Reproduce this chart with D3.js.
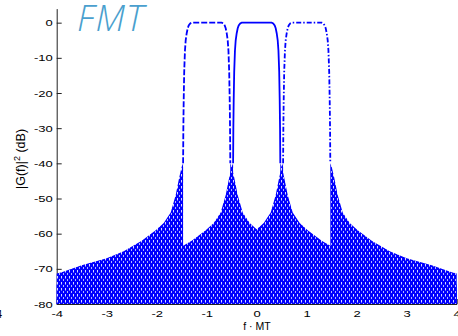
<!DOCTYPE html>
<html>
<head>
<meta charset="utf-8">
<script src="https://cdn.jsdelivr.net/npm/d3@7"></script>
<style>
  body { margin: 0; background: #fff; }
  svg { display: block; }
</style>
</head>
<body>
<div id="chart"></div>
<script>
// Subchannel centres (f·MT) and their line styles
const centers = [-1, 0, 1];
const dashes = ['6,2', null, '5,2,1.5,2'];

// Main lobe of |G(f)|^2 in dB, against offset from the centre
const lobeDf = [0, 0.30, 0.33, 0.36, 0.38, 0.40, 0.42, 0.435, 0.45, 0.46, 0.467, 0.472];
const lobeDb = [0, 0, -0.2, -0.8, -1.6, -3, -5, -8, -14, -22, -30, -40];

// Upper envelope of the sidelobes, against offset from the centre
const tailDf = [0.472, 0.50, 0.55, 0.62, 0.72, 0.86, 1.02, 1.3, 1.66, 2.0, 2.5, 2.9, 3.5, 4.2, 5.0];
const tailDb = [-40, -41, -44, -49, -54, -57, -59, -62, -65, -67, -69, -71, -73, -75, -76];

const xTicks = [-4, -3, -2, -1, 0, 1, 2, 3, 4];
const yTicks = [-80, -70, -60, -50, -40, -30, -20, -10, 0];

const W = 458, H = 336;
const blue = '#0000ff';

const svg = d3.select('#chart').append('svg')
  .attr('width', W)
  .attr('height', H);

const x = d3.scaleLinear().domain([-4, 4]).range([56.7, 456.7]);
const y = d3.scaleLinear().domain([-80, 4]).range([304, 8.6]);

const defs = svg.append('defs');

// Clip for the data
defs.append('clipPath').attr('id', 'plot-clip')
  .append('rect')
  .attr('x', x(-4)).attr('y', y(4))
  .attr('width', x(4) - x(-4)).attr('height', y(-80) - y(4));

// Speckled fill standing in for the dense sidelobe ripple
const pat = defs.append('pattern')
  .attr('id', 'ripple')
  .attr('patternUnits', 'userSpaceOnUse')
  .attr('width', 4).attr('height', 6);
pat.append('rect').attr('width', 4).attr('height', 6).attr('fill', blue);
pat.append('rect').attr('x', 1).attr('y', 0).attr('width', 1).attr('height', 2.5).attr('fill', '#fff').attr('opacity', 0.85);
pat.append('rect').attr('x', 3).attr('y', 3).attr('width', 1).attr('height', 2).attr('fill', '#fff').attr('opacity', 0.7);

const tickText = sel => sel
  .style('font-family', '"Liberation Sans", Arial, Helvetica, sans-serif')
  .style('font-size', '13px')
  .attr('fill', '#000');

// X axis
const xAxis = svg.append('g')
  .attr('transform', `translate(0,${y(-80)})`)
  .call(d3.axisBottom(x).tickValues(xTicks).tickFormat(d => String(d))
    .tickSizeInner(-5).tickSizeOuter(0).tickPadding(8));
xAxis.select('.domain').attr('stroke', '#222');
xAxis.selectAll('.tick line').attr('stroke', '#222');
xAxis.selectAll('.tick text').call(tickText).attr('transform', 'scale(1,0.75)');

// Y axis
const yAxis = svg.append('g')
  .attr('transform', `translate(${x(-4)},0)`)
  .call(d3.axisLeft(y).tickValues(yTicks).tickFormat(d => String(d))
    .tickSizeInner(-5).tickSizeOuter(0).tickPadding(4));
yAxis.select('.domain').attr('stroke', '#222');
yAxis.selectAll('.tick line').attr('stroke', '#222');
yAxis.selectAll('.tick text').call(tickText).attr('transform', 'scale(1,0.75)');

const plot = svg.append('g').attr('clip-path', 'url(#plot-clip)');

const area = d3.area()
  .x(d => x(d.f))
  .y0(y(-80))
  .y1(d => y(d.db));

const line = d3.line()
  .x(d => x(d.f))
  .y(d => y(d.db));

// Sidelobe tails of each filter
centers.forEach(c => {
  const left = tailDf.map((df, i) => ({ f: c - df, db: tailDb[i] })).reverse();
  const right = tailDf.map((df, i) => ({ f: c + df, db: tailDb[i] }));
  [left, right].forEach(pts => {
    plot.append('path')
      .datum(pts)
      .attr('d', area)
      .attr('fill', 'url(#ripple)');
  });
});

// Main lobes
centers.forEach((c, k) => {
  const pts = [];
  for (let i = lobeDf.length - 1; i > 0; i--) pts.push({ f: c - lobeDf[i], db: lobeDb[i] });
  for (let i = 0; i < lobeDf.length; i++) pts.push({ f: c + lobeDf[i], db: lobeDb[i] });
  plot.append('path')
    .datum(pts)
    .attr('d', line)
    .attr('fill', 'none')
    .attr('stroke', blue)
    .attr('stroke-width', 1.8)
    .attr('stroke-dasharray', dashes[k]);
});

// Axis labels
svg.append('text')
  .attr('x', 257)
  .attr('y', 330)
  .attr('text-anchor', 'middle')
  .style('font-family', '"Liberation Sans", Arial, sans-serif')
  .style('font-size', '10.5px')
  .text('f \u00b7 MT');

const yl = svg.append('text')
  .attr('transform', 'translate(25,159) rotate(-90)')
  .attr('text-anchor', 'middle')
  .style('font-family', '"Liberation Sans", Arial, sans-serif')
  .style('font-size', '12.5px');
yl.append('tspan').text('|G(f)|');
yl.append('tspan').attr('dy', -5).style('font-size', '9px').text('2');
yl.append('tspan').attr('dy', 5).text(' (dB)');

// Title
svg.append('text')
  .attr('x', 77)
  .attr('y', 31)
  .style('font-family', '"Open Sans", sans-serif')
  .style('font-style', 'italic')
  .style('font-weight', 300)
  .style('font-size', '36px')
  .style('letter-spacing', '1px')
  .attr('fill', '#4a9fce')
  .text('FMT');

// Edge of a neighbouring panel's tick label
svg.append('text')
  .attr('x', 2)
  .attr('y', 318)
  .attr('text-anchor', 'end')
  .style('font-family', '"Liberation Sans", Arial, sans-serif')
  .style('font-size', '10px')
  .text('4');
</script>
</body>
</html>
